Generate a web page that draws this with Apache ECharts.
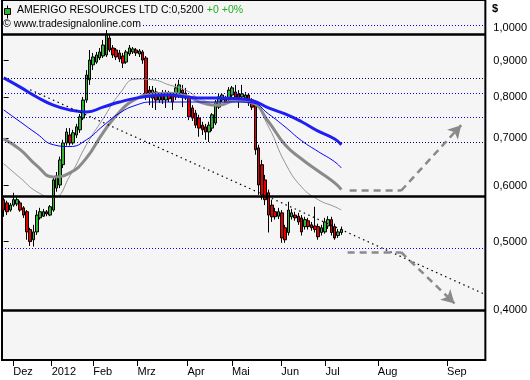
<!DOCTYPE html>
<html><head><meta charset="utf-8">
<script src="https://cdn.jsdelivr.net/npm/echarts@6/dist/echarts.min.js"></script>
<style>html,body{margin:0;padding:0;background:#fff}#c{width:530px;height:380px}</style>
</head><body><div id="c"></div>
<script>
// Daily bars (index 0 = late Nov 2011 ... index 102 = Jul 2012)
const opens = [.573,.567,.554,.563,.565,.567,.558,.551,.520,.503,
.516,.540,.543,.551,.545,.554,.595,.601,.642,.689,
.707,.689,.707,.719,.747,.792,.846,.888,.896,.908,
.914,.917,.969,.938,.932,.923,.914,.896,.920,.926,
.932,.920,.926,.908,.818,.797,.813,.792,.805,.792,
.808,.805,.800,.805,.818,.810,.797,.772,.759,.747,
.730,.726,.714,.723,.735,.774,.792,.797,.792,.805,
.813,.808,.800,.797,.805,.792,.785,.678,.642,.611,
.586,.563,.551,.543,.549,.523,.515,.542,.545,.543,
.540,.525,.535,.528,.526,.525,.515,.516,.526,.537,
.525,.510,.515];
const closes = [.554,.551,.563,.573,.573,.554,.545,.516,.500,.516,
.545,.551,.551,.547,.560,.611,.619,.652,.689,.714,
.689,.712,.726,.750,.792,.859,.902,.911,.917,.926,
.947,.981,.932,.917,.911,.905,.893,.926,.938,.935,
.923,.929,.902,.805,.800,.818,.792,.805,.792,.808,
.795,.787,.824,.832,.800,.797,.750,.747,.730,.723,
.719,.714,.730,.755,.787,.800,.805,.785,.818,.824,
.800,.797,.808,.805,.785,.774,.674,.601,.582,.573,
.545,.542,.542,.551,.506,.503,.554,.549,.540,.533,
.516,.537,.525,.523,.520,.508,.523,.533,.537,.515,
.506,.516,.520];
const lows = [.542,.545,.551,.560,.561,.551,.540,.503,.493,.492,
.511,.537,.542,.543,.543,.551,.588,.595,.635,.683,
.683,.685,.700,.712,.742,.785,.832,.873,.891,.902,
.908,.911,.926,.908,.902,.896,.879,.891,.914,.920,
.914,.911,.891,.792,.779,.772,.767,.785,.782,.772,
.787,.767,.792,.797,.774,.792,.742,.740,.723,.703,
.707,.696,.691,.716,.730,.769,.787,.779,.787,.800,
.792,.772,.795,.792,.777,.767,.663,.582,.573,.563,
.515,.533,.537,.538,.498,.498,.510,.537,.535,.528,
.510,.520,.520,.518,.515,.503,.510,.513,.521,.510,
.503,.506,.511];
const highs = [.577,.571,.567,.586,.578,.571,.561,.554,.523,.528,
.554,.558,.556,.554,.563,.615,.627,.659,.696,.723,
.723,.719,.733,.757,.800,.873,.932,.923,.926,.938,
.963,.995,.978,.947,.938,.932,.923,.932,.947,.941,
.938,.935,.932,.914,.829,.829,.824,.813,.818,.818,
.816,.813,.835,.846,.832,.824,.805,.779,.767,.755,
.738,.733,.738,.759,.792,.808,.810,.803,.826,.829,
.832,.818,.832,.813,.810,.797,.790,.685,.652,.621,
.592,.573,.558,.558,.554,.528,.569,.556,.551,.549,
.545,.542,.540,.533,.560,.530,.528,.540,.543,.542,
.530,.521,.525];

// Moving averages read at these bar indices
const maIdx = [0,5,10,15,20,25,30,35,40,45,50,55,60,65,70,75,80,85,90,95,100,102];
const maThickBlue = [.851,.826,.800,.779,.767,.762,.774,.787,.797,.803,.805,.800,.797,.797,.796,.791,.772,.757,.738,.716,.698,.685];
const maThinBlue  = [.767,.738,.710,.685,.681,.696,.728,.759,.779,.787,.787,.787,.787,.787,.787,.785,.757,.726,.694,.670,.648,.635];
const maThickGray = [.698,.674,.640,.617,.625,.656,.712,.762,.795,.808,.810,.803,.785,.779,.790,.785,.738,.685,.654,.629,.605,.592];
const maThinGray  = [.644,.615,.588,.577,.619,.685,.745,.808,.848,.846,.832,.818,.792,.785,.792,.785,.726,.646,.597,.573,.560,.554];

const yTicks = [0.4,0.5,0.6,0.7,0.8,0.9,1.0];
const monthLabels = ['Dez','2012','Feb','Mrz','Apr','Mai','Jun','Jul','Aug','Sep'];
const monthPos = [2.91,14.49,27.04,40.43,55.52,68.97,83.87,97.24,113.01,133.95];

const thickLevels = [0.98,0.58,0.40];
const blueDotLevels = [1.011,0.814,0.754,0.493];
const blackDotLevels = [0.847,0.694];
const trendLine = [[8,0.819],[145.5,0.421]];
const arrowUp = [[104.5,0.590],[120.07,0.590],[138.2,0.730]];
const arrowDown = [[103.9,0.483],[120.07,0.483],[136.2,0.409]];

const FONT = 'Liberation Sans, Arial, sans-serif';
const candles = opens.map((o,i)=>[i,o,closes[i],lows[i],highs[i]]);
const toLine = arr => maIdx.map((x,k)=>[x,arr[k]]);

function arrowSegs(pts){
  const dash = {color:'#8a8a8a', width:2.5, type:[7,5]};
  return [
    [{coord:pts[0], symbol:'none'},{coord:pts[1], symbol:'none', lineStyle:dash}],
    [{coord:pts[1], symbol:'none'},{coord:pts[2], symbol:'arrow', symbolSize:[11,13], lineStyle:dash}]
  ];
}

const chart = echarts.init(document.getElementById('c'), null, {renderer:'canvas'});
chart.setOption({
  animation:false,
  backgroundColor:'#ffffff',
  grid:{left:2,right:44,top:0,bottom:20,show:true,backgroundColor:'#f5f5f5',borderColor:'#000',borderWidth:2},
  xAxis:{type:'value',min:-0.5,max:145.5,
    splitLine:{show:false},axisLine:{show:false},
    axisTick:{show:true,customValues:monthPos,length:6,lineStyle:{color:'#000'}},
    axisLabel:{customValues:monthPos,align:'left',margin:6,fontSize:11,fontFamily:FONT,color:'#000',
      formatter:v=>{let b=0;monthPos.forEach((p,k)=>{if(Math.abs(p-v)<Math.abs(monthPos[b]-v))b=k;});return monthLabels[b];}}
  },
  yAxis:{type:'log',logBase:10,position:'right',min:0.3403,max:1.0963,
    splitLine:{show:false},axisLine:{show:false},minorTick:{show:false},
    axisTick:{show:true,customValues:yTicks,length:5,lineStyle:{color:'#000'}},
    axisLabel:{customValues:yTicks,margin:8,fontSize:11,fontFamily:FONT,color:'#000',
      formatter:v=>v.toFixed(4).replace('.',',')}
  },
  series:[
    {type:'candlestick',name:'price',data:candles,barWidth:3,z:2,
      itemStyle:{color:'#33b533',color0:'#e60000',borderColor:'#000',borderColor0:'#000',borderWidth:1},
      markLine:{silent:true,symbol:'none',label:{show:false},animation:false,
        data:[
          ...blueDotLevels.map(v=>({yAxis:v,lineStyle:{color:'#0000e0',width:1,type:[1,2]}})),
          ...blackDotLevels.map(v=>({yAxis:v,lineStyle:{color:'#000040',width:1,type:[1,2]}}))
        ]}
    },
    {type:'line',data:toLine(maThinGray),showSymbol:false,smooth:true,z:3,lineStyle:{color:'#959595',width:1}},
    {type:'line',data:toLine(maThickGray),showSymbol:false,smooth:true,z:3,lineStyle:{color:'#8a8a8a',width:3}},
    {type:'line',data:toLine(maThinBlue),showSymbol:false,smooth:true,z:3,lineStyle:{color:'#0000ff',width:1}},
    {type:'line',data:toLine(maThickBlue),showSymbol:false,smooth:true,z:3,lineStyle:{color:'#1e1ef5',width:3}},
    {type:'line',data:trendLine,showSymbol:false,z:4,lineStyle:{color:'#000',width:1.2,type:[1.5,3.5]},
      markLine:{silent:true,symbol:'none',label:{show:false},animation:false,
        data:[
          ...thickLevels.map(v=>({yAxis:v,lineStyle:{color:'#000',width:2.5,type:'solid'}})),
          ...arrowSegs(arrowUp),
          ...arrowSegs(arrowDown)
        ]}
    }
  ],
  graphic:[
    {type:'group',left:4,top:3,z:100,children:[
      {type:'line',shape:{x1:4,y1:0,x2:4,y2:13},style:{stroke:'#000',lineWidth:1}},
      {type:'rect',shape:{x:1,y:3,width:6,height:6},style:{fill:'#33b533',stroke:'#000',lineWidth:1}}
    ]},
    {type:'text',left:17,top:4,z:100,style:{text:'{a|AMERIGO RESOURCES LTD C:0,5200} {g|+0 +0%}',
      rich:{a:{fill:'#000',font:'10.5px '+FONT},g:{fill:'#1fae1f',font:'10.5px '+FONT}}}},
    {type:'text',left:3,top:19,z:100,style:{text:'© www.tradesignalonline.com',fill:'#000',font:'10.5px '+FONT,backgroundColor:'#f5f5f5'}},
    {type:'text',left:492,top:3,z:100,style:{text:'$',fill:'#000',font:'bold 11px '+FONT}}
  ]
});
</script></body></html>
